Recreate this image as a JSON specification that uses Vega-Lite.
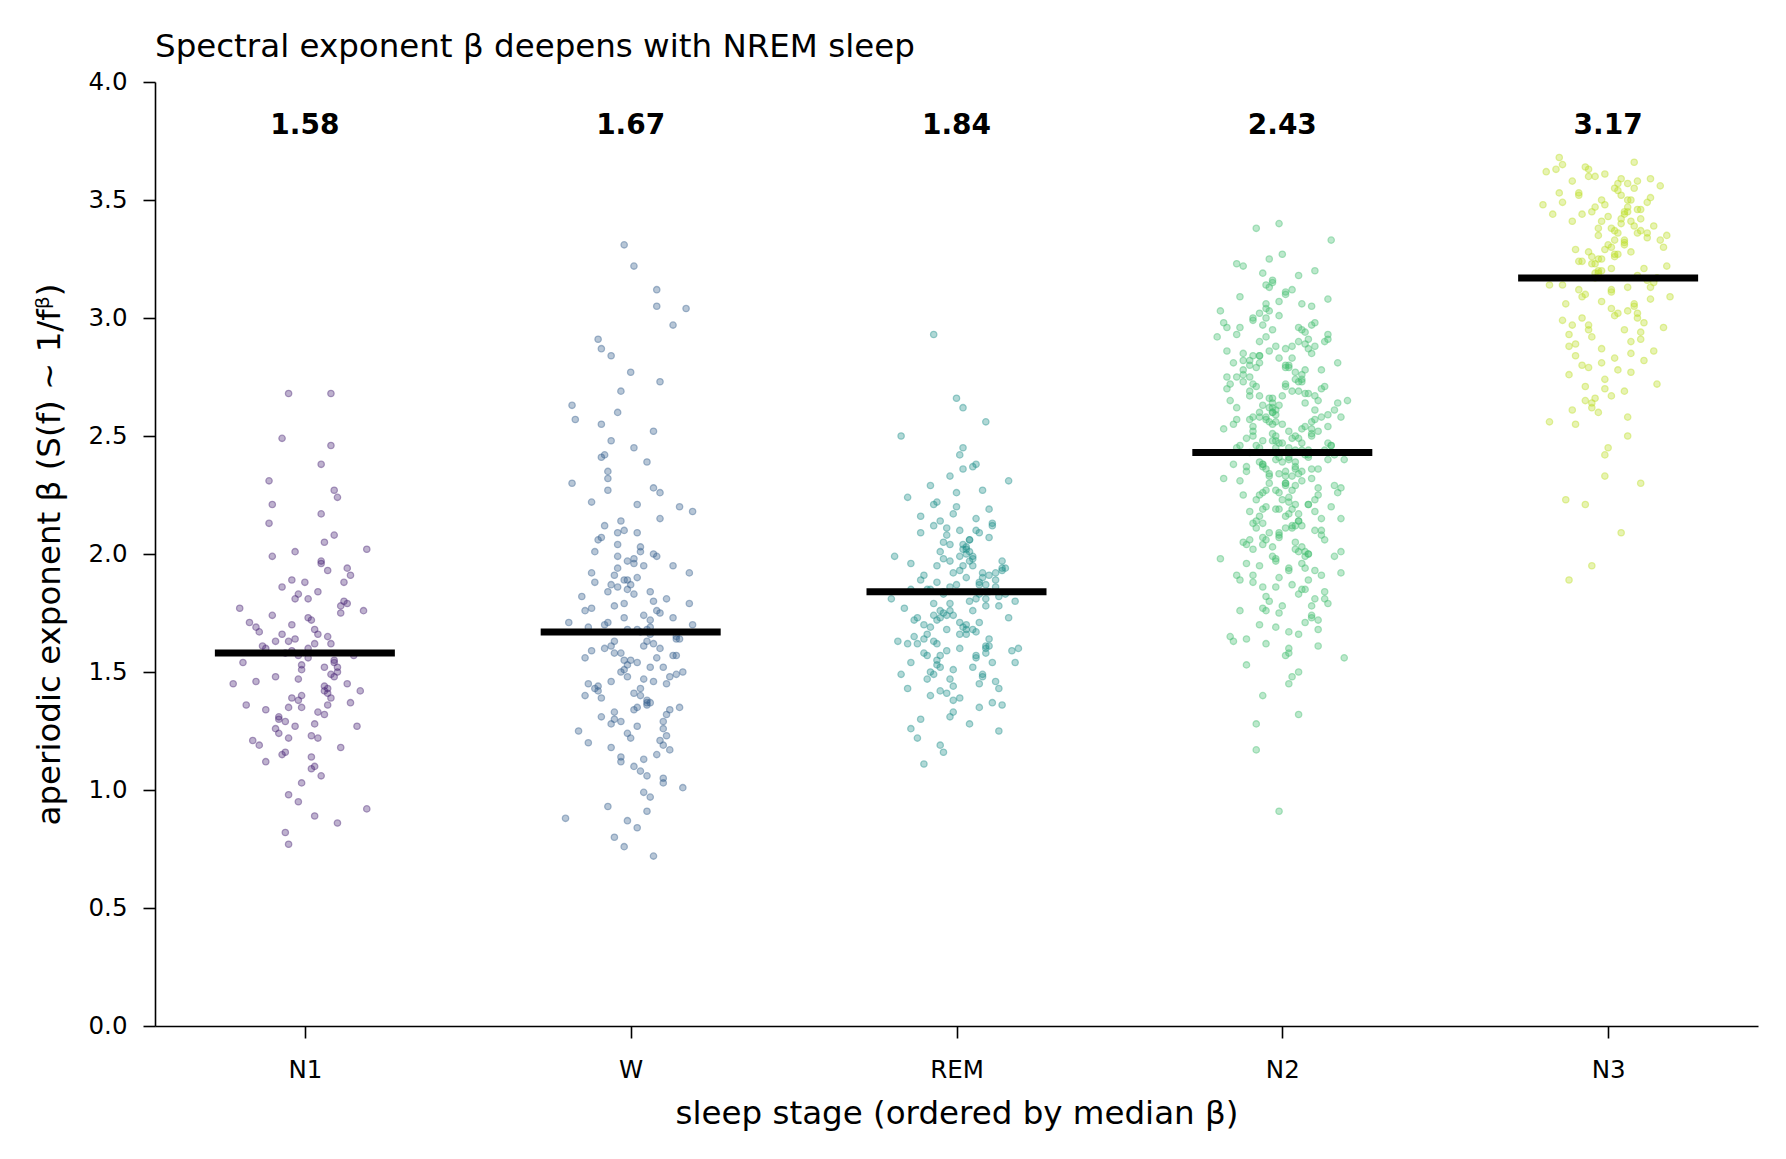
{
"$schema":"https://vega.github.io/schema/vega-lite/v6.json",
"width":1603,"height":944,
"autosize":{"type":"none"},
"padding":{"left":155,"top":82,"right":28,"bottom":133},
"background":"white",
"config":{"view":{"stroke":null},"font":"DejaVu Sans","text":{"font":"DejaVu Sans"}},
"title":{"text":"Spectral exponent β deepens with NREM sleep","anchor":"start","frame":"group","fontSize":32.5,"fontWeight":"normal","font":"DejaVu Sans","color":"black","baseline":"alphabetic","offset":26,"dy":46},
"datasets":{
"med":[{"s":"N1","i":0,"m":1.58},{"s":"W","i":1,"m":1.67},{"s":"REM","i":2,"m":1.84},{"s":"N2","i":3,"m":2.43},{"s":"N3","i":4,"m":3.17}],
"pts":[
{"s":"N1","x":0.03,"b":1.62},{"s":"N1","x":-0.08,"b":1.31},{"s":"N1","x":0.12,"b":1.88},{"s":"N1","x":-0.02,"b":1.47},{"s":"N1","x":0.06,"b":2.05},{"s":"N1","x":-0.14,"b":1.19},{"s":"N1","x":0.01,"b":1.73},{"s":"N1","x":0.09,"b":1.55},{"s":"N1","x":-0.05,"b":0.98},{"s":"N1","x":0.17,"b":1.42},{"s":"N1","x":-0.11,"b":2.31},{"s":"N1","x":0.04,"b":1.66},{"s":"N1","x":-0.03,"b":1.27},{"s":"N1","x":0.07,"b":1.93},{"s":"N1","x":-0.06,"b":1.58},{"s":"N1","x":0.02,"b":1.09},{"s":"N1","x":0.13,"b":1.79},{"s":"N1","x":-0.18,"b":1.36},{"s":"N1","x":0.05,"b":2.17},{"s":"N1","x":-0.01,"b":1.51},{"s":"N1","x":0.10,"b":0.86},{"s":"N1","x":-0.04,"b":1.70},{"s":"N1","x":0.06,"b":1.44},{"s":"N1","x":-0.10,"b":1.99},{"s":"N1","x":0.02,"b":1.23},{"s":"N1","x":-0.13,"b":1.61},{"s":"N1","x":0.08,"b":2.46},{"s":"N1","x":-0.02,"b":1.38},{"s":"N1","x":0.04,"b":1.84},{"s":"N1","x":-0.07,"b":1.15},{"s":"N1","x":0.15,"b":1.57},{"s":"N1","x":-0.06,"b":1.29},{"s":"N1","x":-0.05,"b":2.68},{"s":"N1","x":0.11,"b":1.75},{"s":"N1","x":-0.09,"b":1.48},{"s":"N1","x":0.19,"b":0.92},{"s":"N1","x":-0.03,"b":1.64},{"s":"N1","x":0.05,"b":1.96},{"s":"N1","x":-0.12,"b":1.34},{"s":"N1","x":0.01,"b":1.81},{"s":"N1","x":-0.16,"b":1.21},{"s":"N1","x":0.09,"b":2.08},{"s":"N1","x":-0.01,"b":1.53},{"s":"N1","x":0.07,"b":1.41},{"s":"N1","x":-0.05,"b":0.77},{"s":"N1","x":0.03,"b":1.68},{"s":"N1","x":-0.09,"b":1.26},{"s":"N1","x":0.14,"b":1.91},
{"s":"N1","x":-0.04,"b":1.59},{"s":"N1","x":0.10,"b":2.24},{"s":"N1","x":-0.12,"b":1.12},{"s":"N1","x":0.02,"b":1.72},{"s":"N1","x":0.08,"b":1.39},{"s":"N1","x":-0.07,"b":1.86},{"s":"N1","x":-0.22,"b":1.45},{"s":"N1","x":-0.01,"b":1.03},{"s":"N1","x":0.05,"b":2.38},{"s":"N1","x":-0.09,"b":1.63},{"s":"N1","x":0.06,"b":1.32},{"s":"N1","x":-0.20,"b":1.77},{"s":"N1","x":0.01,"b":1.56},{"s":"N1","x":0.11,"b":1.18},{"s":"N1","x":-0.03,"b":2.01},{"s":"N1","x":0.08,"b":1.49},{"s":"N1","x":-0.14,"b":1.67},{"s":"N1","x":0.03,"b":0.89},{"s":"N1","x":-0.05,"b":1.35},{"s":"N1","x":0.13,"b":1.94},{"s":"N1","x":-0.08,"b":1.24},{"s":"N1","x":0.08,"b":2.68},{"s":"N1","x":0.09,"b":1.54},{"s":"N1","x":-0.02,"b":1.83},{"s":"N1","x":0.07,"b":1.43},{"s":"N1","x":-0.11,"b":2.13},{"s":"N1","x":0.03,"b":1.28},{"s":"N1","x":-0.17,"b":1.71},{"s":"N1","x":0.05,"b":1.06},{"s":"N1","x":0.01,"b":1.60},{"s":"N1","x":-0.07,"b":2.49},{"s":"N1","x":0.14,"b":1.37},{"s":"N1","x":-0.04,"b":1.89},{"s":"N1","x":0.10,"b":1.50},{"s":"N1","x":-0.06,"b":1.16},{"s":"N1","x":0.18,"b":1.76},{"s":"N1","x":-0.10,"b":2.21},{"s":"N1","x":0.04,"b":1.33},{"s":"N1","x":-0.02,"b":0.95},{"s":"N1","x":0.07,"b":1.65},{"s":"N1","x":-0.15,"b":1.46},{"s":"N1","x":0.19,"b":2.02},{"s":"N1","x":-0.05,"b":1.22},{"s":"N1","x":0.12,"b":1.80},{"s":"N1","x":-0.06,"b":0.82},{"s":"N1","x":0.06,"b":1.52},{"s":"N1","x":-0.01,"b":1.40},{"s":"N1","x":0.09,"b":2.27},
{"s":"N1","x":-0.02,"b":1.57},{"s":"N1","x":0.07,"b":1.36},{"s":"N1","x":-0.10,"b":1.74},{"s":"N1","x":0.04,"b":1.22},{"s":"N1","x":-0.05,"b":1.63},{"s":"N1","x":0.13,"b":1.45},{"s":"N1","x":0.00,"b":1.88},{"s":"N1","x":-0.08,"b":1.30},{"s":"N1","x":0.10,"b":1.52},{"s":"N1","x":-0.15,"b":1.69},{"s":"N1","x":0.02,"b":1.14},{"s":"N1","x":0.06,"b":1.42},{"s":"N1","x":-0.03,"b":1.81},{"s":"N1","x":0.16,"b":1.27},{"s":"N1","x":-0.12,"b":1.60},{"s":"N1","x":0.05,"b":1.97},{"s":"N1","x":-0.01,"b":1.35},{"s":"N1","x":0.09,"b":1.48},{"s":"N1","x":-0.07,"b":1.66},{"s":"N1","x":0.03,"b":1.10},{"s":"N1","x":-0.19,"b":1.54},{"s":"N1","x":0.11,"b":1.78},{"s":"N1","x":-0.04,"b":1.39},{"s":"N1","x":0.08,"b":1.62},
{"s":"W","x":1.03,"b":1.67},{"s":"W","x":0.92,"b":2.12},{"s":"W","x":1.12,"b":1.34},{"s":"W","x":0.98,"b":1.89},{"s":"W","x":1.06,"b":0.97},{"s":"W","x":0.86,"b":1.56},{"s":"W","x":1.01,"b":2.45},{"s":"W","x":1.09,"b":1.21},{"s":"W","x":0.95,"b":1.78},{"s":"W","x":1.17,"b":3.04},{"s":"W","x":0.89,"b":1.43},{"s":"W","x":1.04,"b":1.95},{"s":"W","x":0.97,"b":1.12},{"s":"W","x":1.07,"b":2.28},{"s":"W","x":0.94,"b":1.61},{"s":"W","x":1.02,"b":0.84},{"s":"W","x":1.13,"b":1.73},{"s":"W","x":0.82,"b":2.63},{"s":"W","x":1.05,"b":1.38},{"s":"W","x":0.99,"b":1.85},{"s":"W","x":1.10,"b":1.05},{"s":"W","x":0.96,"b":2.04},{"s":"W","x":1.06,"b":1.52},{"s":"W","x":0.90,"b":2.91},{"s":"W","x":1.02,"b":1.27},{"s":"W","x":0.87,"b":1.69},{"s":"W","x":1.08,"b":1.99},{"s":"W","x":0.98,"b":0.76},{"s":"W","x":1.04,"b":1.47},{"s":"W","x":0.93,"b":2.35},{"s":"W","x":1.15,"b":1.64},{"s":"W","x":0.94,"b":1.18},{"s":"W","x":1.00,"b":2.77},{"s":"W","x":1.11,"b":1.81},{"s":"W","x":0.91,"b":1.31},{"s":"W","x":1.19,"b":2.18},{"s":"W","x":0.97,"b":1.58},{"s":"W","x":1.05,"b":0.91},{"s":"W","x":0.88,"b":1.92},{"s":"W","x":1.01,"b":1.41},{"s":"W","x":0.98,"b":3.31},{"s":"W","x":1.09,"b":1.75},{"s":"W","x":0.99,"b":1.24},{"s":"W","x":1.07,"b":2.52},{"s":"W","x":0.95,"b":1.63},{"s":"W","x":1.03,"b":1.08},{"s":"W","x":0.91,"b":2.07},{"s":"W","x":1.14,"b":1.49},
{"s":"W","x":0.96,"b":1.86},{"s":"W","x":1.10,"b":1.29},{"s":"W","x":0.88,"b":2.22},{"s":"W","x":1.02,"b":1.54},{"s":"W","x":1.08,"b":3.12},{"s":"W","x":0.93,"b":1.71},{"s":"W","x":1.16,"b":1.01},{"s":"W","x":0.99,"b":1.97},{"s":"W","x":1.05,"b":1.36},{"s":"W","x":0.91,"b":2.41},{"s":"W","x":1.06,"b":1.66},{"s":"W","x":0.80,"b":0.88},{"s":"W","x":1.01,"b":1.83},{"s":"W","x":1.11,"b":1.45},{"s":"W","x":0.97,"b":2.69},{"s":"W","x":1.08,"b":1.15},{"s":"W","x":0.86,"b":1.76},{"s":"W","x":1.03,"b":2.01},{"s":"W","x":0.95,"b":1.33},{"s":"W","x":1.13,"b":2.97},{"s":"W","x":0.92,"b":1.60},{"s":"W","x":1.00,"b":1.22},{"s":"W","x":1.09,"b":2.15},{"s":"W","x":0.98,"b":1.51},{"s":"W","x":1.07,"b":0.72},{"s":"W","x":0.89,"b":1.88},{"s":"W","x":1.03,"b":1.40},{"s":"W","x":0.83,"b":2.57},{"s":"W","x":1.05,"b":1.68},{"s":"W","x":1.01,"b":1.10},{"s":"W","x":0.93,"b":2.32},{"s":"W","x":1.14,"b":1.57},{"s":"W","x":0.96,"b":1.94},{"s":"W","x":1.10,"b":1.26},{"s":"W","x":0.94,"b":2.84},{"s":"W","x":1.18,"b":1.79},{"s":"W","x":0.90,"b":1.44},{"s":"W","x":1.04,"b":0.99},{"s":"W","x":0.98,"b":2.10},{"s":"W","x":1.07,"b":1.62},{"s":"W","x":1.01,"b":3.22},{"s":"W","x":1.02,"b":1.35},{"s":"W","x":0.95,"b":1.91},{"s":"W","x":1.12,"b":1.17},{"s":"W","x":0.94,"b":2.48},{"s":"W","x":1.06,"b":1.72},{"s":"W","x":0.99,"b":1.53},{"s":"W","x":1.09,"b":2.26},
{"s":"W","x":1.14,"b":1.65},{"s":"W","x":0.91,"b":1.39},{"s":"W","x":1.03,"b":2.03},{"s":"W","x":0.95,"b":0.80},{"s":"W","x":1.07,"b":1.80},{"s":"W","x":0.99,"b":1.48},{"s":"W","x":1.09,"b":2.73},{"s":"W","x":0.84,"b":1.25},{"s":"W","x":1.01,"b":1.98},{"s":"W","x":0.88,"b":1.59},{"s":"W","x":1.05,"b":2.39},{"s":"W","x":0.97,"b":1.14},{"s":"W","x":1.19,"b":1.70},{"s":"W","x":0.91,"b":2.87},{"s":"W","x":1.11,"b":1.32},{"s":"W","x":1.00,"b":1.87},{"s":"W","x":0.94,"b":1.46},{"s":"W","x":1.15,"b":2.20},{"s":"W","x":0.93,"b":0.93},{"s":"W","x":1.04,"b":1.74},{"s":"W","x":0.98,"b":1.55},{"s":"W","x":1.08,"b":3.05},{"s":"W","x":0.87,"b":1.20},{"s":"W","x":1.02,"b":2.09},{"s":"W","x":0.90,"b":1.42},{"s":"W","x":1.06,"b":1.84},{"s":"W","x":0.96,"b":2.60},{"s":"W","x":1.10,"b":1.03},{"s":"W","x":0.99,"b":1.68},{"s":"W","x":1.05,"b":1.37},{"s":"W","x":0.82,"b":2.30},{"s":"W","x":1.13,"b":1.57},{"s":"W","x":1.02,"b":1.90},{"s":"W","x":0.94,"b":1.28},{"s":"W","x":1.07,"b":2.00},{"s":"W","x":0.97,"b":1.50},
{"s":"W","x":0.98,"b":1.73},{"s":"W","x":1.07,"b":1.46},{"s":"W","x":0.90,"b":2.06},{"s":"W","x":1.04,"b":1.61},{"s":"W","x":0.95,"b":1.30},{"s":"W","x":1.13,"b":1.95},{"s":"W","x":1.00,"b":1.55},{"s":"W","x":0.92,"b":2.42},{"s":"W","x":1.10,"b":1.19},{"s":"W","x":0.85,"b":1.82},{"s":"W","x":1.02,"b":1.68},{"s":"W","x":1.06,"b":1.37},{"s":"W","x":0.97,"b":2.14},{"s":"W","x":1.16,"b":1.50},{"s":"W","x":0.88,"b":1.77},{"s":"W","x":1.05,"b":1.06},{"s":"W","x":0.99,"b":1.89},{"s":"W","x":1.09,"b":1.60},{"s":"W","x":0.93,"b":2.27},{"s":"W","x":1.03,"b":1.43},{"s":"W","x":0.81,"b":1.71},{"s":"W","x":1.11,"b":1.23},{"s":"W","x":0.96,"b":1.99},{"s":"W","x":1.08,"b":1.56},{"s":"W","x":1.01,"b":1.34},{"s":"W","x":0.91,"b":2.55},{"s":"W","x":1.14,"b":1.64},{"s":"W","x":0.94,"b":1.87},{"s":"W","x":1.04,"b":1.13},{"s":"W","x":0.98,"b":1.79},{"s":"W","x":1.12,"b":1.48},{"s":"W","x":0.89,"b":2.01},{"s":"W","x":1.06,"b":1.69},{"s":"W","x":0.97,"b":1.29},{"s":"W","x":1.18,"b":1.92},{"s":"W","x":0.95,"b":1.58},{"s":"W","x":1.02,"b":2.21},{"s":"W","x":0.86,"b":1.40},{"s":"W","x":1.08,"b":1.76},{"s":"W","x":0.99,"b":0.87},{"s":"W","x":1.05,"b":1.63},{"s":"W","x":0.93,"b":1.84},{"s":"W","x":1.10,"b":1.52},{"s":"W","x":0.96,"b":2.09},{"s":"W","x":1.15,"b":1.35},{"s":"W","x":0.92,"b":1.70},{"s":"W","x":1.01,"b":1.96},{"s":"W","x":0.87,"b":1.45},
{"s":"REM","x":1.96,"b":1.84},{"s":"REM","x":2.10,"b":2.07},{"s":"REM","x":1.88,"b":1.62},{"s":"REM","x":2.02,"b":1.95},{"s":"REM","x":2.08,"b":1.48},{"s":"REM","x":1.93,"b":2.21},{"s":"REM","x":2.16,"b":1.73},{"s":"REM","x":1.99,"b":1.33},{"s":"REM","x":2.05,"b":1.99},{"s":"REM","x":1.91,"b":1.57},{"s":"REM","x":2.06,"b":2.38},{"s":"REM","x":1.80,"b":1.81},{"s":"REM","x":2.01,"b":1.66},{"s":"REM","x":2.11,"b":2.12},{"s":"REM","x":1.97,"b":1.41},{"s":"REM","x":2.08,"b":1.90},{"s":"REM","x":1.86,"b":1.54},{"s":"REM","x":2.03,"b":2.03},{"s":"REM","x":1.95,"b":1.76},{"s":"REM","x":2.13,"b":1.25},{"s":"REM","x":1.92,"b":2.29},{"s":"REM","x":2.00,"b":1.87},{"s":"REM","x":2.09,"b":1.60},{"s":"REM","x":1.98,"b":1.97},{"s":"REM","x":2.07,"b":1.45},{"s":"REM","x":1.89,"b":2.16},{"s":"REM","x":2.03,"b":1.70},{"s":"REM","x":1.83,"b":2.50},{"s":"REM","x":2.05,"b":1.52},{"s":"REM","x":2.01,"b":1.93},{"s":"REM","x":1.93,"b":1.79},{"s":"REM","x":2.14,"b":1.36},{"s":"REM","x":1.96,"b":2.05},{"s":"REM","x":2.10,"b":1.64},{"s":"REM","x":1.94,"b":1.88},{"s":"REM","x":1.93,"b":2.93},{"s":"REM","x":1.90,"b":1.58},{"s":"REM","x":2.04,"b":2.01},{"s":"REM","x":1.98,"b":1.47},{"s":"REM","x":2.07,"b":1.83},{"s":"REM","x":1.85,"b":2.24},{"s":"REM","x":2.02,"b":1.69},{"s":"REM","x":1.95,"b":1.19},{"s":"REM","x":2.12,"b":1.92},{"s":"REM","x":1.94,"b":1.55},{"s":"REM","x":2.06,"b":2.10},{"s":"REM","x":1.99,"b":1.74},{"s":"REM","x":2.09,"b":1.61},
{"s":"REM","x":2.03,"b":2.00},{"s":"REM","x":1.92,"b":1.50},{"s":"REM","x":2.12,"b":1.86},{"s":"REM","x":1.98,"b":2.33},{"s":"REM","x":2.06,"b":1.67},{"s":"REM","x":1.86,"b":1.96},{"s":"REM","x":2.01,"b":1.39},{"s":"REM","x":2.09,"b":1.78},{"s":"REM","x":1.95,"b":2.14},{"s":"REM","x":2.17,"b":1.59},{"s":"REM","x":1.89,"b":1.89},{"s":"REM","x":2.04,"b":1.28},{"s":"REM","x":1.97,"b":2.08},{"s":"REM","x":2.07,"b":1.71},{"s":"REM","x":1.94,"b":1.53},{"s":"REM","x":2.02,"b":2.45},{"s":"REM","x":2.13,"b":1.82},{"s":"REM","x":1.82,"b":1.63},{"s":"REM","x":2.05,"b":1.98},{"s":"REM","x":1.99,"b":1.44},{"s":"REM","x":2.10,"b":2.19},{"s":"REM","x":1.96,"b":1.75},{"s":"REM","x":2.06,"b":1.56},{"s":"REM","x":1.90,"b":1.91},{"s":"REM","x":2.02,"b":2.62},{"s":"REM","x":1.87,"b":1.65},{"s":"REM","x":1.90,"b":1.11},{"s":"REM","x":1.98,"b":2.04},{"s":"REM","x":2.04,"b":1.80},{"s":"REM","x":1.93,"b":1.49},{"s":"REM","x":2.15,"b":1.94},{"s":"REM","x":1.94,"b":1.72},{"s":"REM","x":2.00,"b":2.26},{"s":"REM","x":2.11,"b":1.37},{"s":"REM","x":1.91,"b":1.85},{"s":"REM","x":2.19,"b":1.60},{"s":"REM","x":1.97,"b":2.11},{"s":"REM","x":2.05,"b":1.68},{"s":"REM","x":1.88,"b":1.22},{"s":"REM","x":2.01,"b":1.99},{"s":"REM","x":1.84,"b":1.77},{"s":"REM","x":2.09,"b":2.56},{"s":"REM","x":1.99,"b":1.51},{"s":"REM","x":2.07,"b":1.87},{"s":"REM","x":1.95,"b":1.42},{"s":"REM","x":2.03,"b":2.02},{"s":"REM","x":1.91,"b":1.66},{"s":"REM","x":2.14,"b":1.93},
{"s":"REM","x":2.09,"b":1.81},{"s":"REM","x":1.99,"b":2.17},{"s":"REM","x":2.06,"b":1.57},{"s":"REM","x":1.94,"b":1.95},{"s":"REM","x":2.12,"b":1.46},{"s":"REM","x":1.95,"b":1.73},{"s":"REM","x":2.02,"b":2.36},{"s":"REM","x":1.85,"b":1.62},{"s":"REM","x":2.07,"b":1.88},{"s":"REM","x":1.98,"b":1.31},{"s":"REM","x":2.04,"b":2.06},{"s":"REM","x":1.90,"b":1.70},{"s":"REM","x":2.18,"b":1.54},{"s":"REM","x":1.94,"b":2.22},{"s":"REM","x":2.10,"b":1.84},{"s":"REM","x":1.96,"b":1.16},{"s":"REM","x":2.14,"b":1.97},{"s":"REM","x":1.93,"b":1.63},{"s":"REM","x":2.01,"b":2.42},{"s":"REM","x":2.05,"b":1.76},{"s":"REM","x":1.83,"b":1.49},{"s":"REM","x":2.03,"b":1.90},{"s":"REM","x":1.89,"b":2.09},{"s":"REM","x":2.07,"b":1.35},{"s":"REM","x":1.98,"b":1.79},{"s":"REM","x":2.09,"b":1.58},{"s":"REM","x":2.00,"b":2.66},{"s":"REM","x":1.92,"b":1.85},{"s":"REM","x":2.13,"b":1.43},{"s":"REM","x":1.95,"b":2.01},{"s":"REM","x":2.03,"b":1.68},{"s":"REM","x":1.86,"b":1.26},{"s":"REM","x":2.08,"b":1.92},{"s":"REM","x":1.97,"b":1.74},{"s":"REM","x":2.11,"b":2.13},{"s":"REM","x":2.01,"b":1.60},
{"s":"REM","x":1.98,"b":1.86},{"s":"REM","x":2.07,"b":2.09},{"s":"REM","x":1.90,"b":1.64},{"s":"REM","x":2.04,"b":1.97},{"s":"REM","x":1.95,"b":1.52},{"s":"REM","x":2.13,"b":1.78},{"s":"REM","x":2.00,"b":2.20},{"s":"REM","x":1.92,"b":1.69},{"s":"REM","x":2.10,"b":1.91},{"s":"REM","x":1.85,"b":1.43},{"s":"REM","x":2.02,"b":2.04},{"s":"REM","x":2.06,"b":1.81},{"s":"REM","x":1.97,"b":1.59},{"s":"REM","x":2.16,"b":2.31},{"s":"REM","x":1.88,"b":1.73},{"s":"REM","x":2.05,"b":1.95},{"s":"REM","x":1.99,"b":1.38},{"s":"REM","x":2.09,"b":1.87},{"s":"REM","x":1.93,"b":2.12},{"s":"REM","x":2.03,"b":1.66},{"s":"REM","x":1.81,"b":1.99},{"s":"REM","x":2.11,"b":1.54},{"s":"REM","x":1.96,"b":1.83},{"s":"REM","x":2.08,"b":2.27},{"s":"REM","x":2.01,"b":1.71},{"s":"REM","x":1.91,"b":1.47},{"s":"REM","x":2.14,"b":1.94},{"s":"REM","x":1.94,"b":1.62},{"s":"REM","x":2.04,"b":2.06},{"s":"REM","x":1.98,"b":1.76},{"s":"REM","x":2.12,"b":1.89},{"s":"REM","x":1.89,"b":1.30},{"s":"REM","x":2.06,"b":2.15},{"s":"REM","x":1.97,"b":1.68},{"s":"REM","x":2.18,"b":1.80},{"s":"REM","x":1.95,"b":1.57},{"s":"REM","x":2.02,"b":2.02},{"s":"REM","x":1.86,"b":1.85},{"s":"REM","x":2.08,"b":1.49},{"s":"REM","x":1.99,"b":1.92},{"s":"REM","x":2.05,"b":2.37},{"s":"REM","x":1.93,"b":1.74},{"s":"REM","x":2.10,"b":1.61},{"s":"REM","x":1.96,"b":1.98},{"s":"REM","x":2.15,"b":1.83},{"s":"REM","x":1.92,"b":1.40},{"s":"REM","x":2.01,"b":2.10},{"s":"REM","x":1.87,"b":1.72},
{"s":"N2","x":3.03,"b":2.43},{"s":"N2","x":2.92,"b":2.71},{"s":"N2","x":3.12,"b":2.15},{"s":"N2","x":2.98,"b":2.88},{"s":"N2","x":3.06,"b":1.96},{"s":"N2","x":2.86,"b":2.57},{"s":"N2","x":3.01,"b":2.30},{"s":"N2","x":3.09,"b":3.05},{"s":"N2","x":2.95,"b":1.82},{"s":"N2","x":3.17,"b":2.64},{"s":"N2","x":2.89,"b":2.49},{"s":"N2","x":3.04,"b":2.21},{"s":"N2","x":2.97,"b":2.95},{"s":"N2","x":3.07,"b":1.71},{"s":"N2","x":2.94,"b":2.38},{"s":"N2","x":3.02,"b":2.80},{"s":"N2","x":3.13,"b":2.06},{"s":"N2","x":2.82,"b":2.53},{"s":"N2","x":3.05,"b":3.18},{"s":"N2","x":2.99,"b":1.90},{"s":"N2","x":3.10,"b":2.67},{"s":"N2","x":2.96,"b":2.34},{"s":"N2","x":3.06,"b":2.12},{"s":"N2","x":2.90,"b":2.75},{"s":"N2","x":3.02,"b":1.58},{"s":"N2","x":2.87,"b":2.46},{"s":"N2","x":3.08,"b":2.91},{"s":"N2","x":2.98,"b":2.27},{"s":"N2","x":3.04,"b":2.02},{"s":"N2","x":2.93,"b":2.60},{"s":"N2","x":3.15,"b":3.33},{"s":"N2","x":2.94,"b":2.19},{"s":"N2","x":3.00,"b":1.78},{"s":"N2","x":3.11,"b":2.52},{"s":"N2","x":2.91,"b":2.84},{"s":"N2","x":3.19,"b":2.40},{"s":"N2","x":2.97,"b":1.99},{"s":"N2","x":3.05,"b":2.69},{"s":"N2","x":2.88,"b":2.25},{"s":"N2","x":3.01,"b":3.11},{"s":"N2","x":2.84,"b":1.65},{"s":"N2","x":3.09,"b":2.56},{"s":"N2","x":2.99,"b":2.09},{"s":"N2","x":3.07,"b":2.78},{"s":"N2","x":2.95,"b":2.36},{"s":"N2","x":3.03,"b":1.87},{"s":"N2","x":2.91,"b":2.99},{"s":"N2","x":3.14,"b":2.47},
{"s":"N2","x":2.96,"b":2.62},{"s":"N2","x":3.10,"b":2.18},{"s":"N2","x":2.88,"b":2.85},{"s":"N2","x":3.02,"b":1.93},{"s":"N2","x":3.08,"b":2.44},{"s":"N2","x":2.93,"b":3.02},{"s":"N2","x":3.16,"b":2.29},{"s":"N2","x":2.99,"b":1.75},{"s":"N2","x":3.05,"b":2.73},{"s":"N2","x":2.91,"b":2.50},{"s":"N2","x":3.06,"b":2.03},{"s":"N2","x":2.80,"b":2.92},{"s":"N2","x":3.01,"b":2.33},{"s":"N2","x":3.11,"b":1.61},{"s":"N2","x":2.97,"b":2.66},{"s":"N2","x":3.08,"b":2.41},{"s":"N2","x":2.86,"b":3.23},{"s":"N2","x":3.03,"b":2.11},{"s":"N2","x":2.95,"b":2.58},{"s":"N2","x":3.13,"b":1.84},{"s":"N2","x":2.92,"b":2.79},{"s":"N2","x":3.00,"b":2.23},{"s":"N2","x":3.09,"b":2.97},{"s":"N2","x":2.98,"b":1.98},{"s":"N2","x":3.07,"b":2.54},{"s":"N2","x":2.89,"b":2.37},{"s":"N2","x":3.03,"b":1.48},{"s":"N2","x":2.83,"b":2.70},{"s":"N2","x":3.05,"b":2.14},{"s":"N2","x":3.01,"b":2.87},{"s":"N2","x":2.93,"b":2.45},{"s":"N2","x":3.14,"b":3.08},{"s":"N2","x":2.96,"b":1.80},{"s":"N2","x":3.10,"b":2.61},{"s":"N2","x":2.94,"b":2.26},{"s":"N2","x":3.18,"b":2.01},{"s":"N2","x":2.90,"b":2.82},{"s":"N2","x":3.04,"b":2.39},{"s":"N2","x":2.98,"b":1.69},{"s":"N2","x":3.07,"b":2.94},{"s":"N2","x":2.85,"b":2.55},{"s":"N2","x":3.02,"b":2.17},{"s":"N2","x":2.95,"b":3.14},{"s":"N2","x":3.12,"b":1.91},{"s":"N2","x":2.94,"b":2.48},{"s":"N2","x":3.06,"b":2.76},{"s":"N2","x":2.99,"b":2.07},{"s":"N2","x":3.09,"b":2.32},
{"s":"N2","x":3.14,"b":2.59},{"s":"N2","x":2.91,"b":1.88},{"s":"N2","x":3.03,"b":2.83},{"s":"N2","x":2.95,"b":2.20},{"s":"N2","x":3.07,"b":2.42},{"s":"N2","x":2.99,"b":3.01},{"s":"N2","x":3.09,"b":1.73},{"s":"N2","x":2.84,"b":2.65},{"s":"N2","x":3.01,"b":2.35},{"s":"N2","x":2.88,"b":2.05},{"s":"N2","x":3.05,"b":2.90},{"s":"N2","x":2.97,"b":2.51},{"s":"N2","x":3.19,"b":1.56},{"s":"N2","x":2.91,"b":2.72},{"s":"N2","x":3.11,"b":2.28},{"s":"N2","x":3.00,"b":3.27},{"s":"N2","x":2.94,"b":2.13},{"s":"N2","x":3.15,"b":2.46},{"s":"N2","x":2.93,"b":1.95},{"s":"N2","x":3.04,"b":2.77},{"s":"N2","x":2.98,"b":2.40},{"s":"N2","x":3.08,"b":2.00},{"s":"N2","x":2.87,"b":3.09},{"s":"N2","x":3.02,"b":1.67},{"s":"N2","x":2.90,"b":2.57},{"s":"N2","x":3.06,"b":2.31},{"s":"N2","x":2.96,"b":2.86},{"s":"N2","x":3.10,"b":2.10},{"s":"N2","x":2.99,"b":2.63},{"s":"N2","x":3.05,"b":1.83},{"s":"N2","x":2.82,"b":2.98},{"s":"N2","x":3.13,"b":2.44},{"s":"N2","x":3.02,"b":2.24},{"s":"N2","x":2.94,"b":1.40},{"s":"N2","x":3.07,"b":2.68},{"s":"N2","x":2.97,"b":3.16},{"s":"N2","x":3.04,"b":2.36},{"s":"N2","x":2.89,"b":2.04},{"s":"N2","x":3.17,"b":2.81},{"s":"N2","x":2.95,"b":1.76},{"s":"N2","x":3.09,"b":2.53},{"s":"N2","x":3.01,"b":2.16},{"s":"N2","x":2.86,"b":2.93},{"s":"N2","x":3.06,"b":2.47},{"s":"N2","x":2.98,"b":1.97},{"s":"N2","x":3.12,"b":2.70},{"s":"N2","x":2.92,"b":3.38},{"s":"N2","x":3.03,"b":2.27},
{"s":"N2","x":3.09,"b":2.50},{"s":"N2","x":2.99,"b":2.08},{"s":"N2","x":3.06,"b":2.74},{"s":"N2","x":2.94,"b":1.86},{"s":"N2","x":3.12,"b":2.58},{"s":"N2","x":2.95,"b":3.04},{"s":"N2","x":3.02,"b":2.22},{"s":"N2","x":2.85,"b":1.63},{"s":"N2","x":3.07,"b":2.89},{"s":"N2","x":2.98,"b":2.43},{"s":"N2","x":3.04,"b":2.12},{"s":"N2","x":2.90,"b":2.67},{"s":"N2","x":3.18,"b":1.92},{"s":"N2","x":2.94,"b":2.37},{"s":"N2","x":3.10,"b":3.20},{"s":"N2","x":2.96,"b":2.56},{"s":"N2","x":3.14,"b":1.79},{"s":"N2","x":2.93,"b":2.81},{"s":"N2","x":3.01,"b":2.30},{"s":"N2","x":3.05,"b":2.01},{"s":"N2","x":2.83,"b":2.96},{"s":"N2","x":3.03,"b":2.49},{"s":"N2","x":2.89,"b":1.53},{"s":"N2","x":3.07,"b":2.64},{"s":"N2","x":2.98,"b":2.19},{"s":"N2","x":3.09,"b":2.85},{"s":"N2","x":3.00,"b":2.39},{"s":"N2","x":2.92,"b":1.28},{"s":"N2","x":3.13,"b":2.71},{"s":"N2","x":2.95,"b":2.06},{"s":"N2","x":3.03,"b":3.12},{"s":"N2","x":2.86,"b":2.45},{"s":"N2","x":3.08,"b":1.89},{"s":"N2","x":2.97,"b":2.60},{"s":"N2","x":3.11,"b":2.25},{"s":"N2","x":3.01,"b":2.79},{"s":"N2","x":2.93,"b":1.70},{"s":"N2","x":3.06,"b":2.53},{"s":"N2","x":2.91,"b":3.00},{"s":"N2","x":3.05,"b":2.14},{"s":"N2","x":2.99,"b":2.34},{"s":"N2","x":3.16,"b":1.99},{"s":"N2","x":2.93,"b":2.90},{"s":"N2","x":3.08,"b":2.42},{"s":"N2","x":3.02,"b":1.60},{"s":"N2","x":2.88,"b":2.76},{"s":"N2","x":3.10,"b":2.23},{"s":"N2","x":2.96,"b":3.25},
{"s":"N2","x":2.98,"b":2.48},{"s":"N2","x":3.07,"b":1.94},{"s":"N2","x":2.90,"b":2.69},{"s":"N2","x":3.04,"b":2.29},{"s":"N2","x":2.95,"b":3.06},{"s":"N2","x":3.13,"b":1.81},{"s":"N2","x":3.00,"b":2.55},{"s":"N2","x":2.92,"b":2.11},{"s":"N2","x":3.10,"b":2.88},{"s":"N2","x":2.85,"b":2.38},{"s":"N2","x":3.02,"b":1.45},{"s":"N2","x":3.06,"b":2.73},{"s":"N2","x":2.97,"b":2.03},{"s":"N2","x":3.16,"b":2.61},{"s":"N2","x":2.88,"b":3.22},{"s":"N2","x":3.05,"b":2.17},{"s":"N2","x":2.99,"b":2.47},{"s":"N2","x":3.09,"b":1.74},{"s":"N2","x":2.93,"b":2.84},{"s":"N2","x":3.03,"b":2.33},{"s":"N2","x":2.81,"b":1.98},{"s":"N2","x":3.11,"b":2.65},{"s":"N2","x":2.96,"b":3.13},{"s":"N2","x":3.08,"b":2.21},{"s":"N2","x":3.01,"b":1.57},{"s":"N2","x":2.91,"b":2.52},{"s":"N2","x":3.14,"b":2.91},{"s":"N2","x":2.94,"b":2.07},{"s":"N2","x":3.04,"b":2.44},{"s":"N2","x":2.98,"b":1.86},{"s":"N2","x":3.12,"b":2.78},{"s":"N2","x":2.89,"b":2.35},{"s":"N2","x":2.99,"b":0.91},{"s":"N2","x":2.97,"b":2.62},{"s":"N2","x":3.18,"b":2.15},{"s":"N2","x":2.99,"b":3.40},{"s":"N2","x":3.02,"b":2.40},{"s":"N2","x":2.86,"b":1.91},{"s":"N2","x":3.08,"b":2.87},{"s":"N2","x":2.99,"b":2.26},{"s":"N2","x":3.05,"b":1.66},{"s":"N2","x":2.93,"b":2.58},{"s":"N2","x":3.10,"b":2.98},{"s":"N2","x":2.96,"b":2.09},{"s":"N2","x":3.15,"b":2.46},{"s":"N2","x":2.92,"b":1.17},{"s":"N2","x":3.01,"b":2.72},{"s":"N2","x":2.87,"b":2.31},
{"s":"N2","x":2.97,"b":2.64},{"s":"N2","x":3.08,"b":2.00},{"s":"N2","x":2.88,"b":2.82},{"s":"N2","x":3.02,"b":2.41},{"s":"N2","x":2.94,"b":1.77},{"s":"N2","x":3.14,"b":2.93},{"s":"N2","x":2.99,"b":2.19},{"s":"N2","x":2.91,"b":2.54},{"s":"N2","x":3.05,"b":1.32},{"s":"N2","x":2.83,"b":2.75},{"s":"N2","x":3.11,"b":2.36},{"s":"N2","x":2.96,"b":3.03},{"s":"N2","x":3.03,"b":2.12},{"s":"N2","x":2.93,"b":2.67},{"s":"N2","x":3.06,"b":1.85},{"s":"N2","x":2.98,"b":2.50},{"s":"N2","x":2.87,"b":2.96},{"s":"N2","x":3.18,"b":2.28},{"s":"N2","x":2.95,"b":1.62},{"s":"N2","x":3.01,"b":2.80},{"s":"N2","x":2.90,"b":2.43},{"s":"N2","x":3.04,"b":2.05},{"s":"N2","x":2.94,"b":3.19},{"s":"N2","x":3.10,"b":2.57},
{"s":"N2","x":2.97,"b":2.55},{"s":"N2","x":3.08,"b":2.21},{"s":"N2","x":2.88,"b":2.78},{"s":"N2","x":3.02,"b":1.94},{"s":"N2","x":2.94,"b":2.63},{"s":"N2","x":3.14,"b":2.40},{"s":"N2","x":2.99,"b":3.07},{"s":"N2","x":2.91,"b":2.02},{"s":"N2","x":3.05,"b":2.49},{"s":"N2","x":2.83,"b":2.86},{"s":"N2","x":3.11,"b":1.72},{"s":"N2","x":2.96,"b":2.33},{"s":"N2","x":3.03,"b":2.69},{"s":"N2","x":2.93,"b":2.16},{"s":"N2","x":3.06,"b":2.95},{"s":"N2","x":2.98,"b":2.45},{"s":"N2","x":2.87,"b":1.89},{"s":"N2","x":3.18,"b":2.58},{"s":"N2","x":2.95,"b":2.27},{"s":"N2","x":3.01,"b":3.10},{"s":"N2","x":2.90,"b":2.06},{"s":"N2","x":3.04,"b":2.74},{"s":"N2","x":2.94,"b":2.38},{"s":"N2","x":3.10,"b":1.81},{"s":"N2","x":2.98,"b":2.61},{"s":"N2","x":3.13,"b":2.90},{"s":"N2","x":2.92,"b":2.14},{"s":"N2","x":3.02,"b":2.52},{"s":"N2","x":2.96,"b":2.30},{"s":"N2","x":3.07,"b":1.99},{"s":"N2","x":2.85,"b":2.81},{"s":"N2","x":3.06,"b":2.44},{"s":"N2","x":3.00,"b":2.67},{"s":"N2","x":2.89,"b":1.64},{"s":"N2","x":3.09,"b":2.36},{"s":"N2","x":2.81,"b":3.03},{"s":"N2","x":3.03,"b":2.19},{"s":"N2","x":2.95,"b":2.57},{"s":"N2","x":3.12,"b":2.08},{"s":"N2","x":2.99,"b":2.83},{"s":"N2","x":3.16,"b":2.42},{"s":"N2","x":2.91,"b":1.91},{"s":"N2","x":3.01,"b":2.71},{"s":"N2","x":2.93,"b":2.25},{"s":"N2","x":3.05,"b":2.96},{"s":"N2","x":2.97,"b":2.48},{"s":"N2","x":3.09,"b":1.78},{"s":"N2","x":2.86,"b":2.62},
{"s":"N2","x":3.04,"b":2.37},{"s":"N2","x":2.90,"b":2.80},{"s":"N2","x":3.12,"b":2.10},{"s":"N2","x":2.98,"b":2.59},{"s":"N2","x":2.92,"b":2.46},{"s":"N2","x":3.07,"b":1.85},{"s":"N2","x":2.84,"b":2.72},{"s":"N2","x":3.01,"b":2.29},{"s":"N2","x":2.95,"b":3.00},{"s":"N2","x":3.09,"b":2.51},{"s":"N2","x":2.94,"b":2.04},{"s":"N2","x":3.20,"b":2.65},{"s":"N2","x":2.99,"b":2.41},{"s":"N2","x":2.89,"b":1.96},{"s":"N2","x":3.03,"b":2.88},{"s":"N2","x":2.92,"b":2.23},{"s":"N2","x":3.14,"b":2.54},{"s":"N2","x":2.97,"b":3.15},{"s":"N2","x":3.05,"b":2.34},{"s":"N2","x":2.87,"b":1.76},{"s":"N2","x":3.08,"b":2.68},{"s":"N2","x":3.00,"b":2.47},{"s":"N2","x":2.91,"b":2.13},{"s":"N2","x":3.02,"b":2.79},{"s":"N2","x":2.93,"b":2.39},{"s":"N2","x":3.11,"b":1.68},{"s":"N2","x":2.97,"b":2.60},{"s":"N2","x":3.17,"b":2.26},{"s":"N2","x":2.95,"b":2.92},{"s":"N2","x":2.99,"b":2.43},{"s":"N2","x":3.07,"b":2.01},{"s":"N2","x":2.86,"b":2.75},{"s":"N2","x":3.04,"b":2.50},{"s":"N2","x":2.90,"b":2.18},{"s":"N2","x":3.06,"b":3.06},{"s":"N2","x":2.82,"b":2.32},{"s":"N2","x":3.10,"b":1.93},{"s":"N2","x":2.96,"b":2.66},{"s":"N2","x":3.02,"b":2.45},{"s":"N2","x":2.93,"b":2.84},{"s":"N2","x":3.15,"b":2.20},{"s":"N2","x":2.98,"b":2.56},{"s":"N2","x":3.05,"b":1.50},{"s":"N2","x":2.88,"b":2.73},{"s":"N2","x":3.06,"b":2.35},{"s":"N2","x":2.94,"b":2.97},{"s":"N2","x":3.01,"b":2.11},{"s":"N2","x":2.91,"b":2.58},
{"s":"N3","x":3.96,"b":3.17},{"s":"N3","x":4.10,"b":3.42},{"s":"N3","x":3.88,"b":2.88},{"s":"N3","x":4.02,"b":3.55},{"s":"N3","x":4.08,"b":3.05},{"s":"N3","x":3.93,"b":2.71},{"s":"N3","x":4.16,"b":3.33},{"s":"N3","x":3.99,"b":3.61},{"s":"N3","x":4.05,"b":2.95},{"s":"N3","x":3.91,"b":3.24},{"s":"N3","x":4.06,"b":2.58},{"s":"N3","x":3.80,"b":3.48},{"s":"N3","x":4.01,"b":3.12},{"s":"N3","x":4.11,"b":2.82},{"s":"N3","x":3.97,"b":3.38},{"s":"N3","x":4.08,"b":3.66},{"s":"N3","x":3.86,"b":2.99},{"s":"N3","x":4.03,"b":3.27},{"s":"N3","x":3.95,"b":2.64},{"s":"N3","x":4.13,"b":3.51},{"s":"N3","x":3.92,"b":3.09},{"s":"N3","x":4.00,"b":2.45},{"s":"N3","x":4.09,"b":3.36},{"s":"N3","x":3.98,"b":3.20},{"s":"N3","x":4.07,"b":2.77},{"s":"N3","x":3.89,"b":3.58},{"s":"N3","x":4.03,"b":3.02},{"s":"N3","x":3.83,"b":3.44},{"s":"N3","x":4.05,"b":2.69},{"s":"N3","x":4.01,"b":3.30},{"s":"N3","x":3.93,"b":2.21},{"s":"N3","x":4.14,"b":3.15},{"s":"N3","x":3.96,"b":3.47},{"s":"N3","x":4.10,"b":2.91},{"s":"N3","x":3.94,"b":3.63},{"s":"N3","x":4.18,"b":3.22},{"s":"N3","x":3.90,"b":2.55},{"s":"N3","x":4.04,"b":3.40},{"s":"N3","x":3.98,"b":3.07},{"s":"N3","x":4.07,"b":2.85},{"s":"N3","x":3.85,"b":3.53},{"s":"N3","x":4.02,"b":3.26},{"s":"N3","x":3.95,"b":1.95},{"s":"N3","x":4.12,"b":3.34},{"s":"N3","x":3.94,"b":2.97},{"s":"N3","x":4.06,"b":3.45},{"s":"N3","x":3.99,"b":2.74},{"s":"N3","x":4.09,"b":3.18},
{"s":"N3","x":3.98,"b":3.50},{"s":"N3","x":4.07,"b":2.90},{"s":"N3","x":3.90,"b":3.29},{"s":"N3","x":4.04,"b":3.59},{"s":"N3","x":3.95,"b":2.62},{"s":"N3","x":4.13,"b":3.13},{"s":"N3","x":4.00,"b":3.43},{"s":"N3","x":3.92,"b":2.80},{"s":"N3","x":4.10,"b":3.37},{"s":"N3","x":3.85,"b":3.68},{"s":"N3","x":4.02,"b":3.01},{"s":"N3","x":4.06,"b":2.50},{"s":"N3","x":3.97,"b":3.25},{"s":"N3","x":4.16,"b":3.56},{"s":"N3","x":3.88,"b":2.93},{"s":"N3","x":4.05,"b":3.32},{"s":"N3","x":3.99,"b":2.33},{"s":"N3","x":4.09,"b":3.46},{"s":"N3","x":3.93,"b":3.10},{"s":"N3","x":4.03,"b":2.78},{"s":"N3","x":3.81,"b":3.62},{"s":"N3","x":4.11,"b":3.21},{"s":"N3","x":3.96,"b":2.66},{"s":"N3","x":4.08,"b":3.39},{"s":"N3","x":4.01,"b":3.04},{"s":"N3","x":3.91,"b":3.52},{"s":"N3","x":4.14,"b":2.86},{"s":"N3","x":3.94,"b":3.28},{"s":"N3","x":4.04,"b":2.09},{"s":"N3","x":3.98,"b":3.41},{"s":"N3","x":4.12,"b":3.16},{"s":"N3","x":3.89,"b":2.97},{"s":"N3","x":4.06,"b":3.57},{"s":"N3","x":3.97,"b":2.60},{"s":"N3","x":4.18,"b":3.35},{"s":"N3","x":3.95,"b":3.23},{"s":"N3","x":4.02,"b":2.83},{"s":"N3","x":3.86,"b":3.49},{"s":"N3","x":4.08,"b":3.06},{"s":"N3","x":3.99,"b":2.42},{"s":"N3","x":4.05,"b":3.31},{"s":"N3","x":3.93,"b":3.64},{"s":"N3","x":4.10,"b":2.94},{"s":"N3","x":3.96,"b":3.19},{"s":"N3","x":4.15,"b":2.72},{"s":"N3","x":3.92,"b":3.44},{"s":"N3","x":4.01,"b":3.11},{"s":"N3","x":3.87,"b":2.23},
{"s":"N3","x":4.03,"b":3.54},{"s":"N3","x":3.92,"b":3.00},{"s":"N3","x":4.12,"b":3.36},{"s":"N3","x":3.98,"b":2.87},{"s":"N3","x":4.06,"b":3.47},{"s":"N3","x":3.86,"b":3.14},{"s":"N3","x":4.01,"b":2.67},{"s":"N3","x":4.09,"b":3.58},{"s":"N3","x":3.95,"b":3.26},{"s":"N3","x":4.17,"b":2.96},{"s":"N3","x":3.89,"b":3.41},{"s":"N3","x":3.88,"b":1.89},{"s":"N3","x":3.97,"b":3.20},{"s":"N3","x":4.07,"b":3.50},{"s":"N3","x":3.94,"b":2.79},{"s":"N3","x":4.02,"b":3.33},{"s":"N3","x":4.13,"b":3.08},{"s":"N3","x":3.82,"b":2.56},{"s":"N3","x":4.05,"b":3.45},{"s":"N3","x":3.99,"b":3.29},{"s":"N3","x":4.10,"b":2.30},{"s":"N3","x":3.96,"b":3.60},{"s":"N3","x":4.06,"b":3.03},{"s":"N3","x":3.90,"b":2.84},
{"s":"N3","x":4.14,"b":3.39},{"s":"N3","x":3.91,"b":3.12},{"s":"N3","x":4.03,"b":3.57},{"s":"N3","x":3.95,"b":2.92},{"s":"N3","x":4.07,"b":3.28},{"s":"N3","x":3.99,"b":3.48},{"s":"N3","x":4.09,"b":3.02},{"s":"N3","x":3.84,"b":3.63},{"s":"N3","x":4.01,"b":3.21},{"s":"N3","x":3.88,"b":2.76},{"s":"N3","x":4.05,"b":3.44},{"s":"N3","x":3.97,"b":3.35},{"s":"N3","x":4.19,"b":3.09},{"s":"N3","x":3.91,"b":3.53},{"s":"N3","x":4.11,"b":2.98},{"s":"N3","x":4.00,"b":3.31},{"s":"N3","x":3.94,"b":3.60},{"s":"N3","x":4.15,"b":3.17},{"s":"N3","x":3.93,"b":2.65},{"s":"N3","x":4.04,"b":3.42},{"s":"N3","x":3.98,"b":3.25},{"s":"N3","x":4.08,"b":3.55},{"s":"N3","x":3.87,"b":3.06},{"s":"N3","x":4.02,"b":3.37},{"s":"N3","x":3.90,"b":2.89},{"s":"N3","x":4.06,"b":3.50},{"s":"N3","x":3.96,"b":3.23},{"s":"N3","x":4.10,"b":3.46},{"s":"N3","x":3.99,"b":2.70},{"s":"N3","x":4.05,"b":3.33},{"s":"N3","x":3.82,"b":3.14},{"s":"N3","x":4.13,"b":3.59},{"s":"N3","x":4.02,"b":3.27},{"s":"N3","x":3.94,"b":2.95},{"s":"N3","x":4.07,"b":3.41},{"s":"N3","x":3.97,"b":3.19},{"s":"N3","x":4.04,"b":3.52},{"s":"N3","x":3.89,"b":2.61},{"s":"N3","x":4.17,"b":3.30},{"s":"N3","x":3.95,"b":3.45},{"s":"N3","x":4.09,"b":3.00},{"s":"N3","x":4.01,"b":3.38},{"s":"N3","x":3.86,"b":3.65},{"s":"N3","x":4.06,"b":3.13},{"s":"N3","x":3.98,"b":2.81},{"s":"N3","x":4.12,"b":3.49},{"s":"N3","x":3.92,"b":3.24},{"s":"N3","x":4.03,"b":3.36}
]},
"layer":[
{"data":{"name":"pts"},
 "mark":{"type":"point","filled":true,"size":40,"strokeWidth":1.3,"strokeOpacity":0.65},
 "encoding":{
  "x":{"field":"x","type":"quantitative","title":"sleep stage (ordered by median β)",
       "scale":{"domain":[-0.46,4.46],"nice":false,"zero":false},
       "axis":{"values":[0,1,2,3,4],"labelExpr":"['N1','W','REM','N2','N3'][datum.value]","grid":false,"domainColor":"black","domainWidth":1.6,"tickColor":"black","tickWidth":1.6,"tickSize":12,"labelPadding":20,"labelFontSize":24.5,"labelColor":"black","labelFont":"DejaVu Sans","titleFont":"DejaVu Sans","titleFontSize":32.5,"titleFontWeight":"normal","titleColor":"black","titlePadding":16}},
  "y":{"field":"b","type":"quantitative","title":"aperiodic exponent β  (S(f) ~ 1/fᵝ)",
       "scale":{"domain":[0,4],"nice":false},
       "axis":{"values":[0,0.5,1,1.5,2,2.5,3,3.5,4],"format":".1f","grid":false,"domainColor":"black","domainWidth":1.6,"tickColor":"black","tickWidth":1.6,"tickSize":12,"labelPadding":16,"labelFontSize":24.5,"labelColor":"black","labelFont":"DejaVu Sans","titleFont":"DejaVu Sans","titleFontSize":32.5,"titleFontWeight":"normal","titleColor":"black","titlePadding":22}},
  "color":{"field":"s","type":"nominal","scale":{"domain":["N1","W","REM","N2","N3"],"range":["#482475","#355f8d","#21918c","#44bf70","#bddf26"]},"legend":null},
  "stroke":{"field":"s","type":"nominal","scale":{"domain":["N1","W","REM","N2","N3"],"range":["#482475","#355f8d","#21918c","#44bf70","#bddf26"]},"legend":null},
  "fillOpacity":{"field":"s","type":"nominal","scale":{"domain":["N1","W","REM","N2","N3"],"range":[0.5,0.5,0.55,0.62,0.55]},"legend":null}
 }},
{"data":{"name":"med"},
 "mark":{"type":"tick","orient":"horizontal","size":180,"thickness":7,"color":"black","opacity":1},
 "encoding":{
  "x":{"field":"i","type":"quantitative","title":"sleep stage (ordered by median β)"},
  "y":{"field":"m","type":"quantitative","title":"aperiodic exponent β  (S(f) ~ 1/fᵝ)"}
 }},
{"data":{"name":"med"},
 "mark":{"type":"text","fontSize":28,"fontWeight":"bold","font":"DejaVu Sans","baseline":"middle","align":"center","color":"black"},
 "encoding":{
  "x":{"field":"i","type":"quantitative","title":"sleep stage (ordered by median β)"},
  "y":{"datum":3.815},
  "text":{"field":"m","type":"quantitative","format":".2f"}
 }}
]
}
